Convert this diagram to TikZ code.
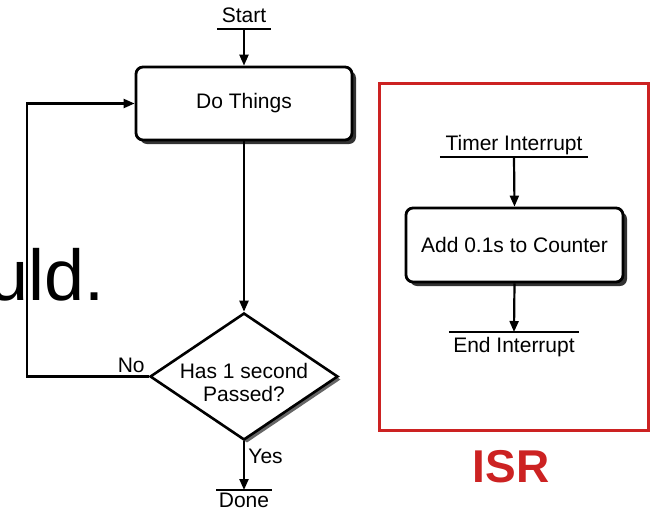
\documentclass[tikz,border=0pt]{standalone}
\usepackage{fontspec}
\setmainfont{Liberation Sans}
\usetikzlibrary{shapes.geometric,shadows,arrows.meta}
\definecolor{isrred}{RGB}{204,34,34}

\begin{document}
\begin{tikzpicture}[x=1pt,y=-1pt,
    every node/.style={font=\fontsize{21}{23}\selectfont},
    term/.style={inner xsep=0pt,inner ysep=2pt,text height=15pt,text depth=4pt},
    stepbox/.style={draw,line width=2.8pt,fill=white,rounded corners=7pt,
      drop shadow={shadow xshift=4pt,shadow yshift=-4pt,fill=black!80,opacity=1}},
    arr/.style={line width=2.2pt,-{Triangle[length=11pt,width=9pt]}}]
    \clip (0,0) rectangle (657,512);

    % slide text behind the chart
    \node[font=\fontsize{72}{72}\selectfont,anchor=base east,inner sep=0pt] (slide) at (105,300) {uld.};

    % main loop
    \node[term,anchor=south,minimum width=53pt] (start) at (244,29) {Start};
    \draw[line width=2.2pt] (start.south west) -- (start.south east);
    \node[stepbox,minimum width=216pt,minimum height=73pt] (do) at (244,103.5) {Do Things};
    \node[diamond,draw,line width=2.6pt,fill=white,aspect=1.48,inner sep=0pt,
      minimum width=188pt,minimum height=127pt,
      drop shadow={shadow xshift=3pt,shadow yshift=-3pt,fill=black!60,opacity=1},
      label={[align=center,yshift=-6pt]center:Has 1 second\\Passed?}]
      (pass) at (244,376.5) {};
    \node[term,anchor=north,minimum width=55pt,text depth=0pt,inner ysep=1.5pt] (done) at (244,490.5) {Done};
    \draw[line width=2.2pt] ([yshift=0.5pt]done.north west) -- ([yshift=0.5pt]done.north east);

    \draw[arr] (start.south) -- (do.north);
    \draw[arr] (do.south) -- (pass.north);
    \draw[arr] (pass.south) -- node[right,pos=0.3] {Yes} ([yshift=0.5pt]done.north);
    \draw[arr] (pass.west) -- node[pos=0,anchor=south east,inner sep=3pt] {No} ++(-122,0) |- (do.west);

    % ISR
    \node[draw=isrred,line width=3pt,minimum width=269pt,minimum height=347pt] (isrbox) at (513.5,256.5) {};
    \node[font=\fontsize{46}{46}\selectfont\bfseries,text=isrred] (isr) at (511,467) {ISR};
    \node[term,anchor=south,minimum width=148pt] (timer) at (514,157) {Timer Interrupt};
    \draw[line width=2.2pt] (timer.south west) -- (timer.south east);
    \node[stepbox,minimum width=217pt,minimum height=74pt] (add) at (514.5,245) {Add 0.1s to Counter};
    \node[term,anchor=north,minimum width=130pt] (endint) at (514,335) {End Interrupt};
    \draw[line width=2.2pt] ([yshift=3pt]endint.north west) -- ([yshift=3pt]endint.north east);

    \draw[arr] (timer.south) -- (add.north);
    \draw[arr] (add.south) -- ([yshift=3pt]endint.north);
  \end{tikzpicture}
\end{document}
